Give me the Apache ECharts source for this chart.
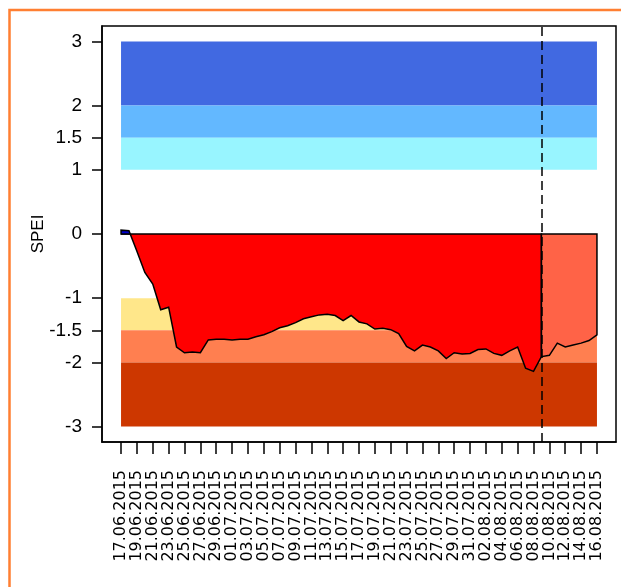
<!DOCTYPE html>
<html>
<head>
<meta charset="utf-8">
<script src="https://cdn.jsdelivr.net/npm/echarts@6/dist/echarts.min.js"></script>
<style>
html,body{margin:0;padding:0;background:#fff;}
#chart{width:621px;height:587px;}
</style>
</head>
<body>
<div id="chart"></div>
<script>
// SPEI values, one per day starting 17.06.2015 (index 0)
var spei = [
    0.06, 0.05, -0.27, -0.6, -0.78, -1.18, -1.14, -1.76, -1.85, -1.84,
    -1.85, -1.65, -1.64, -1.64, -1.65, -1.64, -1.64, -1.6, -1.57, -1.52,
    -1.46, -1.43, -1.38, -1.32, -1.29, -1.26, -1.25, -1.27, -1.35, -1.27,
    -1.37, -1.4, -1.48, -1.47, -1.49, -1.55, -1.75, -1.82, -1.73, -1.76,
    -1.82, -1.94, -1.85, -1.87, -1.86, -1.8, -1.79, -1.86, -1.89, -1.82,
    -1.76, -2.09, -2.14, -1.91, -1.89, -1.7, -1.76, -1.73, -1.7, -1.66,
    -1.57
];
var forecastStart = 53; // 09.08.2015, dashed line

var tickDays = [0, 2, 4, 6, 8, 10, 12, 14, 16, 18, 20, 22, 24, 26, 28, 30,
    32, 34, 36, 38, 40, 42, 44, 46, 48, 50, 52, 54, 56, 58, 60];
var tickLabels = ['17.06.2015', '19.06.2015', '21.06.2015', '23.06.2015', '25.06.2015',
    '27.06.2015', '29.06.2015', '01.07.2015', '03.07.2015', '05.07.2015', '07.07.2015',
    '09.07.2015', '11.07.2015', '13.07.2015', '15.07.2015', '17.07.2015', '19.07.2015',
    '21.07.2015', '23.07.2015', '25.07.2015', '27.07.2015', '29.07.2015', '31.07.2015',
    '02.08.2015', '04.08.2015', '06.08.2015', '08.08.2015', '10.08.2015', '12.08.2015',
    '14.08.2015', '16.08.2015'];
var yTicks = [3, 2, 1.5, 1, 0, -1, -1.5, -2, -3];

// category bands
var bandLow = [2, 1.5, 1, -1.5, -2, -3];
var bandHigh = [3, 2, 1.5, -1, -1.5, -2];
var bandColors = ['#4169E1', '#63B8FF', '#98F5FF', '#FFE78A', '#FF7F50', '#CD3700'];

var chart = echarts.init(document.getElementById('chart'));

// points with zero crossings inserted
function splitPts(from, to) {
    var pts = [];
    for (var i = from; i <= to; i++) {
        pts.push([i, spei[i]]);
        if (i < to && spei[i] * spei[i + 1] < 0) {
            var t = spei[i] / (spei[i] - spei[i + 1]);
            pts.push([i + t, 0]);
        }
    }
    return pts;
}

function polySeries(from, to, sign, color) {
    return {
        type: 'custom',
        z: 3,
        data: [[from, 0]],
        renderItem: function (params, api) {
            var pts = splitPts(from, to);
            var poly = [api.coord([from, 0])];
            if (sign > 0) {
                // only the positive part at the start
                var last = 0;
                pts.forEach(function (p, k) { if (p[1] > 0) last = k; });
                var endX = pts[Math.min(last + 1, pts.length - 1)][0];
                pts.forEach(function (p) {
                    if (p[0] <= endX) poly.push(api.coord([p[0], Math.max(p[1], 0)]));
                });
                poly.push(api.coord([endX, 0]));
            } else {
                pts.forEach(function (p) {
                    poly.push(api.coord([p[0], Math.min(p[1], 0)]));
                });
                poly.push(api.coord([to, 0]));
            }
            return {
                type: 'polygon',
                shape: {points: poly},
                style: {fill: color, stroke: '#000', lineWidth: 1.5}
            };
        }
    };
}

chart.setOption({
    animation: false,
    backgroundColor: '#fff',
    grid: {
        left: 102, right: 5, top: 26, bottom: 145,
        show: true, borderColor: '#000', borderWidth: 1.5
    },
    graphic: [{
        type: 'rect',
        shape: {x: 9.5, y: 10, width: 800, height: 800},
        style: {fill: 'none', stroke: '#FF7F32', lineWidth: 2.5},
        silent: true
    }],
    xAxis: {
        type: 'value',
        min: -2.4, max: 62.4,
        splitLine: {show: false},
        axisLine: {show: true, onZero: false, lineStyle: {color: '#000', width: 1.5}},
        axisTick: {show: true, length: 12, customValues: tickDays, lineStyle: {color: '#000', width: 1.5}},
        axisLabel: {
            customValues: tickDays,
            showMinLabel: true,
            showMaxLabel: true,
            hideOverlap: false,
            rotate: 90,
            margin: 28,
            fontFamily: 'DejaVu Sans',
            fontSize: 16,
            color: '#000',
            formatter: function (v) { return tickLabels[tickDays.indexOf(v)]; }
        }
    },
    yAxis: {
        type: 'value',
        min: -3.24, max: 3.24,
        name: 'SPEI',
        nameLocation: 'middle',
        nameGap: 55,
        nameRotate: 90,
        nameMoveOverlap: false,
        nameTextStyle: {fontFamily: 'Liberation Sans', fontSize: 17, color: '#000'},
        splitLine: {show: false},
        axisLine: {show: true, onZero: false, lineStyle: {color: '#000', width: 1.5}},
        axisTick: {show: true, length: 10, customValues: yTicks, lineStyle: {color: '#000', width: 1.5}},
        axisLabel: {
            customValues: yTicks,
            margin: 20,
            fontFamily: 'Liberation Sans',
            fontSize: 19,
            color: '#000',
            formatter: function (v) { return String(v); }
        }
    },
    series: [
        {
            type: 'custom',
            z: 1,
            data: bandLow.map(function (lo, i) { return [lo, bandHigh[i]]; }),
            renderItem: function (params, api) {
                var p1 = api.coord([tickDays[0], api.value(1)]);
                var p2 = api.coord([tickDays[tickDays.length - 1], api.value(0)]);
                return {
                    type: 'rect',
                    shape: {x: p1[0], y: p1[1], width: p2[0] - p1[0], height: p2[1] - p1[1]},
                    style: {fill: bandColors[params.dataIndex]}
                };
            }
        },
        polySeries(0, forecastStart, -1, '#FF0000'),
        polySeries(forecastStart, spei.length - 1, -1, '#FF6347'),
        polySeries(0, forecastStart, 1, '#0000CD'),
        {
            type: 'line',
            z: 5,
            data: [],
            markLine: {
                silent: true,
                symbol: 'none',
                label: {show: false},
                lineStyle: {color: '#000', type: [9, 5], width: 1.5},
                data: [{xAxis: forecastStart}]
            }
        }
    ]
});
</script>
</body>
</html>
